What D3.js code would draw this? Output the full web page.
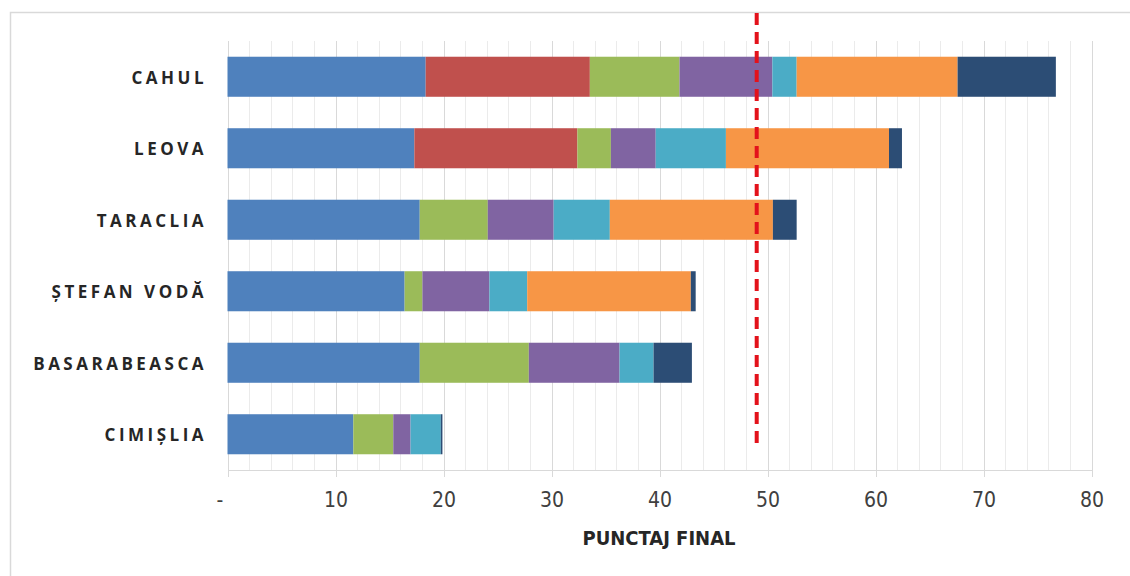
<!DOCTYPE html>
<html>
<head>
<meta charset="utf-8">
<script src="https://cdn.jsdelivr.net/npm/d3@7"></script>
<style>
  html, body { margin: 0; padding: 0; background: #fff; }
  svg { display: block; }
</style>
</head>
<body>
<svg id="chart" width="1130" height="576"></svg>
<script>
// Districts, top to bottom
const districts = ["CAHUL", "LEOVA", "TARACLIA", "ȘTEFAN VODĂ", "BASARABEASCA", "CIMIȘLIA"];

// Score components per district (stacked left to right)
const comp1 = [18.35, 17.3, 17.8, 16.4, 17.8, 11.65];
const comp2 = [15.2, 15.1, 0, 0, 0, 0];
const comp3 = [8.3, 3.1, 6.3, 1.65, 10.1, 3.7];
const comp4 = [8.6, 4.15, 6.1, 6.2, 8.4, 1.6];
const comp5 = [2.25, 6.5, 5.2, 3.5, 3.15, 2.8];
const comp6 = [14.9, 15.1, 15.1, 15.15, 0, 0];
const comp7 = [9.1, 1.2, 2.2, 0.45, 3.55, 0.15];

const components = [comp1, comp2, comp3, comp4, comp5, comp6, comp7];
const componentColors = ["#4F81BD", "#C0504D", "#9BBB59", "#8064A2", "#4BACC6", "#F79646", "#2C4D75"];

// Threshold score marked with a dashed line
const threshold = 49;

// Axis ticks
const majorTicks = [0, 10, 20, 30, 40, 50, 60, 70, 80];
const minorTicks = d3.range(0, 81, 2);
const axisTitle = "PUNCTAJ FINAL";

const svg = d3.select("#chart");

// chart frame
svg.append("rect")
  .attr("x", 10.5).attr("y", 12.5)
  .attr("width", 1140).attr("height", 600)
  .attr("fill", "#fff")
  .attr("stroke", "#d9d9d9").attr("stroke-width", 1.5);

const plot = { left: 227.5, right: 1091.5, top: 41, bottom: 470 };

const x = d3.scaleLinear().domain([0, 80]).range([plot.left, plot.right]);
const y = d3.scaleBand().domain(districts).range([plot.top, plot.bottom]).paddingInner(0.44).paddingOuter(0.22);

// gridlines
const grid = svg.append("g");
grid.selectAll("line.minor")
  .data(minorTicks.filter(t => t % 10 !== 0))
  .join("line")
  .attr("class", "minor")
  .attr("x1", d => Math.round(x(d)) + 0.5).attr("x2", d => Math.round(x(d)) + 0.5)
  .attr("y1", plot.top).attr("y2", plot.bottom)
  .attr("stroke", "#ebebeb").attr("stroke-width", 1);
grid.selectAll("line.major")
  .data(majorTicks)
  .join("line")
  .attr("class", "major")
  .attr("x1", d => Math.round(x(d)) + 0.5).attr("x2", d => Math.round(x(d)) + 0.5)
  .attr("y1", plot.top).attr("y2", plot.bottom + 7)
  .attr("stroke", "#d9d9d9").attr("stroke-width", 1);

// stacked bars
const stackData = districts.map((d, i) => {
  const row = { district: d };
  components.forEach((c, k) => { row["c" + k] = c[i]; });
  return row;
});
const keys = components.map((c, k) => "c" + k);
const series = d3.stack().keys(keys)(stackData);

svg.append("g")
  .selectAll("g")
  .data(series)
  .join("g")
  .attr("fill", (s, k) => componentColors[k])
  .selectAll("rect")
  .data(s => s.filter(p => p[1] - p[0] > 0))
  .join("rect")
  .attr("x", p => x(p[0]))
  .attr("width", p => x(p[1]) - x(p[0]))
  .attr("y", p => y(p.data.district))
  .attr("height", y.bandwidth());

// x axis
const xAxis = d3.axisBottom(x)
  .tickValues(majorTicks)
  .tickSize(0)
  .tickPadding(0)
  .tickFormat(d => d === 0 ? "-" : d3.format("d")(d));

const axisG = svg.append("g")
  .attr("transform", `translate(0,${plot.bottom})`)
  .call(xAxis);
axisG.select(".domain")
  .attr("stroke", "#d9d9d9").attr("stroke-width", 1.2);
axisG.selectAll(".tick text")
  .attr("y", 22)
  .attr("dx", d => d === 0 ? -8 : 0)
  .attr("fill", "#404040")
  .attr("font-family", "'Liberation Sans Narrow', 'DejaVu Sans Condensed', Arial, sans-serif")
  .attr("font-size", 21);

// axis title
svg.append("text")
  .attr("x", 659).attr("y", 545)
  .attr("text-anchor", "middle")
  .attr("font-family", "'Liberation Sans Narrow', 'DejaVu Sans Condensed', Arial, sans-serif")
  .attr("font-weight", "bold")
  .attr("font-size", 20)
  .attr("fill", "#262626")
  .text(axisTitle);

// category labels
svg.append("g")
  .selectAll("text")
  .data(districts)
  .join("text")
  .attr("x", 207)
  .attr("y", d => y(d) + y.bandwidth() / 2 + 7)
  .attr("text-anchor", "end")
  .attr("font-family", "'Open Sans', 'DejaVu Sans', sans-serif")
  .attr("font-weight", "bold")
  .attr("font-size", 17)
  .attr("letter-spacing", 3.5)
  .attr("fill", "#262626")
  .text(d => d);

// threshold line
svg.append("line")
  .attr("x1", x(threshold)).attr("x2", x(threshold))
  .attr("y1", 13).attr("y2", 449)
  .attr("stroke", "#e3121b")
  .attr("stroke-width", 4)
  .attr("stroke-dasharray", "12 7");
</script>
</body>
</html>
